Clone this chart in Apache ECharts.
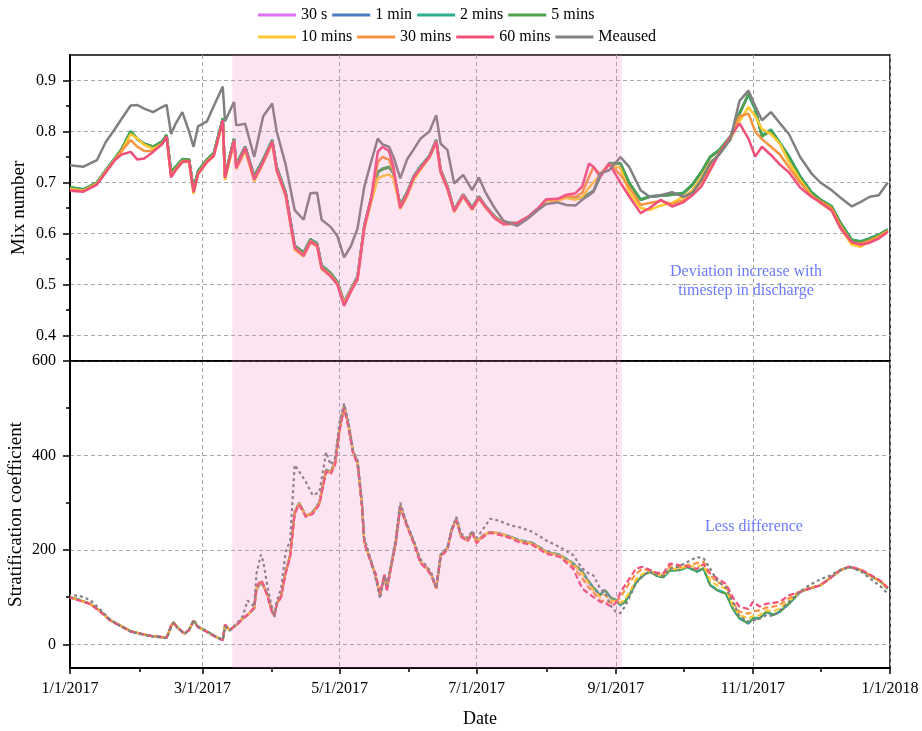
<!DOCTYPE html>
<html>
<head>
<meta charset="utf-8">
<script src="https://cdn.jsdelivr.net/npm/echarts@6/dist/echarts.min.js"></script>
<style>
  html, body { margin: 0; padding: 0; background: #fff; }
  #chart { width: 922px; height: 731px; }
</style>
</head>
<body>
<div id="chart"></div>
<script>
// day offsets from 1/1/2017 for the mix number panel
const mixDays = [0, 6, 12, 16, 20, 23, 27, 30, 33, 37,
  41, 43, 45, 47, 50, 53, 55, 57, 61, 64,
  68, 69, 73, 74, 78, 82, 86, 90, 92, 96,
  100, 104, 107, 110, 112, 116, 119, 122, 125, 128,
  131, 134, 137, 139, 142, 144, 147, 150, 153, 156,
  160, 163, 165, 168, 171, 175, 179, 182, 185, 189,
  193, 199, 204, 208, 212, 217, 221, 225, 228, 231,
  233, 236, 240, 245, 249, 254, 258, 263, 268, 273,
  277, 281, 285, 289, 294, 298, 302, 305, 308, 312,
  316, 320, 325, 330, 334, 339, 343, 348, 352, 356,
  360, 364]

const mixMeas = [0.734, 0.731, 0.744, 0.780, 0.805, 0.825, 0.851, 0.852, 0.845, 0.838,
  0.848, 0.852, 0.795, 0.815, 0.838, 0.800, 0.770, 0.810, 0.820, 0.850,
  0.888, 0.820, 0.858, 0.812, 0.815, 0.750, 0.830, 0.855, 0.800, 0.735,
  0.646, 0.627, 0.679, 0.680, 0.627, 0.613, 0.595, 0.553, 0.575, 0.610,
  0.692, 0.740, 0.786, 0.775, 0.770, 0.750, 0.708, 0.745, 0.765, 0.786,
  0.800, 0.832, 0.776, 0.764, 0.698, 0.715, 0.685, 0.710, 0.680, 0.650,
  0.625, 0.615, 0.630, 0.645, 0.658, 0.661, 0.656, 0.655, 0.666, 0.675,
  0.682, 0.718, 0.724, 0.750, 0.730, 0.685, 0.672, 0.675, 0.681, 0.672,
  0.680, 0.705, 0.738, 0.755, 0.785, 0.860, 0.880, 0.850, 0.822, 0.838,
  0.816, 0.795, 0.750, 0.718, 0.700, 0.685, 0.670, 0.653, 0.662, 0.672,
  0.675, 0.700]

const mix5min = [0.690, 0.686, 0.700, 0.724, 0.747, 0.765, 0.800, 0.785, 0.776, 0.770,
  0.780, 0.793, 0.720, 0.730, 0.745, 0.745, 0.686, 0.722, 0.745, 0.757,
  0.825, 0.712, 0.785, 0.735, 0.770, 0.712, 0.745, 0.783, 0.730, 0.680,
  0.576, 0.562, 0.588, 0.580, 0.537, 0.522, 0.505, 0.465, 0.490, 0.515,
  0.615, 0.668, 0.720, 0.726, 0.730, 0.718, 0.655, 0.680, 0.712, 0.731,
  0.752, 0.783, 0.724, 0.692, 0.646, 0.676, 0.650, 0.672, 0.653, 0.633,
  0.620, 0.620, 0.632, 0.647, 0.666, 0.666, 0.672, 0.668, 0.670, 0.678,
  0.683, 0.712, 0.737, 0.737, 0.698, 0.666, 0.672, 0.674, 0.676, 0.679,
  0.695, 0.720, 0.750, 0.763, 0.790, 0.835, 0.874, 0.845, 0.790, 0.802,
  0.776, 0.750, 0.711, 0.680, 0.666, 0.653, 0.620, 0.587, 0.584, 0.590,
  0.597, 0.607]

const mix2min = [0.691, 0.687, 0.700, 0.725, 0.748, 0.766, 0.801, 0.786, 0.776, 0.770,
  0.781, 0.793, 0.721, 0.731, 0.746, 0.745, 0.687, 0.723, 0.745, 0.758,
  0.826, 0.713, 0.786, 0.736, 0.771, 0.713, 0.746, 0.784, 0.731, 0.681,
  0.577, 0.563, 0.589, 0.581, 0.538, 0.523, 0.506, 0.466, 0.491, 0.516,
  0.616, 0.669, 0.721, 0.727, 0.731, 0.719, 0.656, 0.681, 0.713, 0.732,
  0.753, 0.784, 0.725, 0.693, 0.647, 0.677, 0.651, 0.673, 0.654, 0.634,
  0.621, 0.621, 0.633, 0.648, 0.667, 0.667, 0.673, 0.669, 0.671, 0.678,
  0.683, 0.713, 0.738, 0.738, 0.699, 0.667, 0.673, 0.675, 0.677, 0.680,
  0.696, 0.721, 0.751, 0.764, 0.791, 0.836, 0.872, 0.843, 0.792, 0.804,
  0.778, 0.752, 0.713, 0.682, 0.667, 0.654, 0.621, 0.588, 0.585, 0.591,
  0.598, 0.608]

const mix1min = [0.690, 0.686, 0.700, 0.724, 0.747, 0.765, 0.800, 0.785, 0.776, 0.770,
  0.780, 0.793, 0.720, 0.730, 0.745, 0.745, 0.686, 0.722, 0.745, 0.757,
  0.825, 0.712, 0.785, 0.735, 0.770, 0.712, 0.745, 0.783, 0.730, 0.680,
  0.576, 0.562, 0.588, 0.580, 0.537, 0.522, 0.505, 0.465, 0.490, 0.515,
  0.615, 0.668, 0.720, 0.726, 0.730, 0.718, 0.655, 0.680, 0.712, 0.731,
  0.752, 0.783, 0.724, 0.692, 0.646, 0.676, 0.650, 0.672, 0.653, 0.633,
  0.620, 0.620, 0.632, 0.647, 0.666, 0.666, 0.672, 0.668, 0.670, 0.678,
  0.683, 0.712, 0.737, 0.737, 0.698, 0.666, 0.672, 0.674, 0.676, 0.679,
  0.695, 0.720, 0.750, 0.763, 0.790, 0.835, 0.873, 0.844, 0.791, 0.803,
  0.777, 0.751, 0.712, 0.681, 0.666, 0.653, 0.620, 0.587, 0.584, 0.590,
  0.597, 0.607]

const mix30s = [0.690, 0.686, 0.700, 0.724, 0.747, 0.765, 0.800, 0.785, 0.776, 0.770,
  0.780, 0.793, 0.720, 0.730, 0.745, 0.745, 0.686, 0.722, 0.745, 0.757,
  0.825, 0.712, 0.785, 0.735, 0.770, 0.712, 0.745, 0.783, 0.730, 0.680,
  0.576, 0.562, 0.588, 0.580, 0.537, 0.522, 0.505, 0.465, 0.490, 0.515,
  0.615, 0.668, 0.720, 0.726, 0.730, 0.718, 0.655, 0.680, 0.712, 0.731,
  0.752, 0.783, 0.724, 0.692, 0.646, 0.676, 0.650, 0.672, 0.653, 0.633,
  0.620, 0.620, 0.632, 0.647, 0.666, 0.666, 0.672, 0.668, 0.670, 0.678,
  0.683, 0.712, 0.737, 0.737, 0.698, 0.666, 0.672, 0.674, 0.676, 0.679,
  0.695, 0.720, 0.750, 0.763, 0.790, 0.835, 0.873, 0.844, 0.791, 0.803,
  0.777, 0.751, 0.712, 0.681, 0.666, 0.653, 0.620, 0.587, 0.584, 0.590,
  0.597, 0.607]

const mix10min = [0.688, 0.684, 0.698, 0.722, 0.745, 0.762, 0.795, 0.786, 0.774, 0.766,
  0.776, 0.788, 0.712, 0.724, 0.740, 0.740, 0.678, 0.716, 0.740, 0.752,
  0.818, 0.705, 0.778, 0.726, 0.762, 0.702, 0.738, 0.776, 0.722, 0.672,
  0.568, 0.555, 0.582, 0.574, 0.530, 0.516, 0.500, 0.462, 0.486, 0.510,
  0.608, 0.660, 0.708, 0.712, 0.716, 0.708, 0.648, 0.672, 0.705, 0.725,
  0.748, 0.778, 0.718, 0.686, 0.642, 0.672, 0.646, 0.668, 0.650, 0.630,
  0.618, 0.618, 0.630, 0.645, 0.664, 0.664, 0.670, 0.666, 0.672, 0.690,
  0.700, 0.715, 0.735, 0.728, 0.680, 0.650, 0.646, 0.655, 0.660, 0.672,
  0.685, 0.710, 0.740, 0.755, 0.785, 0.820, 0.848, 0.830, 0.805, 0.795,
  0.776, 0.740, 0.705, 0.675, 0.660, 0.645, 0.610, 0.578, 0.574, 0.585,
  0.594, 0.604]

const mix30min = [0.686, 0.683, 0.697, 0.721, 0.745, 0.762, 0.783, 0.770, 0.762, 0.762,
  0.776, 0.790, 0.712, 0.726, 0.742, 0.742, 0.680, 0.718, 0.742, 0.754,
  0.822, 0.708, 0.782, 0.730, 0.766, 0.706, 0.740, 0.780, 0.726, 0.676,
  0.572, 0.558, 0.585, 0.577, 0.533, 0.518, 0.502, 0.463, 0.488, 0.512,
  0.612, 0.665, 0.740, 0.750, 0.745, 0.722, 0.652, 0.677, 0.710, 0.728,
  0.750, 0.781, 0.722, 0.690, 0.645, 0.675, 0.648, 0.670, 0.652, 0.632,
  0.620, 0.621, 0.633, 0.648, 0.666, 0.667, 0.673, 0.672, 0.680, 0.711,
  0.730, 0.716, 0.737, 0.715, 0.690, 0.656, 0.660, 0.664, 0.658, 0.665,
  0.680, 0.700, 0.730, 0.758, 0.790, 0.830, 0.835, 0.800, 0.785, 0.770,
  0.755, 0.730, 0.700, 0.674, 0.663, 0.650, 0.615, 0.582, 0.580, 0.586,
  0.594, 0.605]

const mix60min = [0.684, 0.682, 0.696, 0.720, 0.744, 0.755, 0.760, 0.745, 0.747, 0.760,
  0.775, 0.790, 0.710, 0.724, 0.740, 0.742, 0.682, 0.716, 0.740, 0.752,
  0.822, 0.710, 0.782, 0.728, 0.768, 0.706, 0.740, 0.780, 0.724, 0.676,
  0.572, 0.556, 0.584, 0.576, 0.532, 0.516, 0.500, 0.458, 0.486, 0.510,
  0.612, 0.668, 0.760, 0.770, 0.762, 0.730, 0.650, 0.676, 0.710, 0.728,
  0.750, 0.780, 0.720, 0.688, 0.644, 0.674, 0.648, 0.670, 0.652, 0.630,
  0.618, 0.620, 0.633, 0.648, 0.667, 0.668, 0.676, 0.679, 0.692, 0.737,
  0.731, 0.711, 0.737, 0.700, 0.672, 0.640, 0.650, 0.666, 0.653, 0.661,
  0.675, 0.692, 0.724, 0.757, 0.790, 0.816, 0.786, 0.751, 0.770, 0.754,
  0.735, 0.720, 0.690, 0.672, 0.661, 0.645, 0.610, 0.583, 0.578, 0.582,
  0.590, 0.603]

// day offsets for the stratification panel
const stratDays = [0, 4, 9, 13, 18, 22, 27, 31, 36, 40,
  43, 45, 46, 48, 51, 53, 55, 57, 61, 65,
  68, 69, 71, 74, 77, 79, 82, 83, 85, 86,
  88, 90, 91, 92, 94, 96, 98, 100, 102, 105,
  108, 111, 114, 116, 118, 120, 122, 124, 126, 128,
  130, 131, 134, 136, 138, 140, 141, 143, 145, 147,
  150, 153, 156, 159, 161, 163, 165, 168, 170, 172,
  174, 177, 179, 181, 184, 187, 191, 196, 200, 206,
  212, 218, 224, 228, 231, 233, 236, 238, 241, 243,
  245, 247, 249, 252, 255, 258, 261, 264, 267, 271,
  275, 279, 282, 285, 288, 292, 295, 298, 302, 304,
  307, 310, 313, 316, 320, 325, 329, 334, 338, 343,
  347, 352, 356, 361, 364]

const stratMeas = [104, 103, 94, 76, 52, 40, 27, 22, 17, 15,
  13, 36, 45, 34, 22, 31, 52, 38, 28, 16,
  10, 38, 29, 43, 60, 93, 80, 150, 190, 176,
  120, 75, 58, 90, 120, 196, 220, 380, 366, 344,
  316, 322, 407, 380, 395, 470, 510, 470, 410, 390,
  300, 225, 178, 140, 97, 145, 125, 170, 225, 300,
  255, 220, 180, 165, 150, 120, 190, 205, 245, 270,
  235, 225, 240, 225, 245, 266, 262, 252, 248, 238,
  220, 206, 189, 161, 150, 146, 118, 110, 80, 69,
  66, 80, 100, 130, 145, 155, 148, 145, 160, 165,
  175, 185, 182, 160, 135, 120, 90, 60, 48, 50,
  55, 62, 60, 72, 90, 112, 125, 138, 145, 158,
  164, 155, 140, 122, 107]

const strat5min = [100, 94, 86, 72, 51, 41, 28, 23, 18, 16,
  14, 38, 47, 35, 23, 30, 50, 37, 27, 16,
  9, 40, 30, 41, 55, 62, 76, 118, 132, 125,
  104, 69, 62, 86, 104, 154, 189, 280, 300, 272,
  280, 300, 370, 365, 386, 457, 505, 464, 408, 386,
  294, 217, 175, 146, 104, 146, 118, 168, 217, 294,
  252, 217, 175, 161, 146, 118, 189, 203, 245, 266,
  231, 220, 238, 217, 231, 238, 235, 228, 220, 214,
  196, 189, 171, 154, 132, 120, 104, 115, 97, 94,
  83, 90, 104, 132, 146, 154, 146, 142, 157, 157,
  164, 154, 161, 125, 115, 107, 76, 55, 44, 55,
  55, 69, 62, 69, 86, 111, 118, 125, 139, 157,
  164, 157, 146, 132, 118]

const strat2min = [101, 95, 86, 72, 51, 41, 28, 23, 18, 16,
  14, 38, 47, 35, 23, 30, 50, 37, 27, 16,
  9, 40, 30, 41, 55, 62, 76, 117, 131, 124,
  104, 69, 62, 86, 104, 153, 188, 280, 300, 272,
  280, 301, 370, 365, 386, 457, 505, 464, 408, 386,
  294, 217, 175, 146, 104, 146, 118, 168, 217, 294,
  252, 217, 175, 161, 146, 118, 189, 203, 245, 266,
  231, 220, 238, 217, 231, 238, 235, 228, 221, 215,
  197, 190, 172, 155, 133, 121, 105, 116, 98, 95,
  84, 90, 104, 131, 145, 153, 146, 142, 156, 157,
  163, 154, 160, 126, 116, 108, 77, 56, 45, 56,
  56, 69, 63, 70, 86, 111, 118, 125, 139, 157,
  164, 157, 146, 132, 118]

const strat1min = [100, 94, 86, 72, 51, 41, 28, 23, 18, 16,
  14, 38, 47, 35, 23, 30, 50, 37, 27, 16,
  9, 40, 30, 41, 55, 62, 76, 118, 132, 125,
  104, 69, 62, 86, 104, 154, 189, 280, 300, 272,
  280, 300, 370, 365, 386, 457, 505, 464, 408, 386,
  294, 217, 175, 146, 104, 146, 118, 168, 217, 294,
  252, 217, 175, 161, 146, 118, 189, 203, 245, 266,
  231, 220, 238, 217, 231, 238, 235, 228, 220, 214,
  196, 189, 171, 154, 132, 120, 104, 115, 97, 94,
  83, 90, 104, 132, 146, 154, 146, 142, 157, 157,
  164, 154, 161, 125, 115, 107, 76, 55, 44, 55,
  55, 69, 62, 69, 86, 111, 118, 125, 139, 157,
  164, 157, 146, 132, 118]

const strat30s = [100, 94, 86, 72, 51, 41, 28, 23, 18, 16,
  14, 38, 47, 35, 23, 30, 50, 37, 27, 16,
  9, 40, 30, 41, 55, 62, 76, 118, 132, 125,
  104, 69, 62, 86, 104, 154, 189, 280, 300, 272,
  280, 300, 370, 365, 386, 457, 505, 464, 408, 386,
  294, 217, 175, 146, 104, 146, 118, 168, 217, 294,
  252, 217, 175, 161, 146, 118, 189, 203, 245, 266,
  231, 220, 238, 217, 231, 238, 235, 228, 220, 214,
  196, 189, 171, 154, 132, 120, 104, 115, 97, 94,
  83, 90, 104, 132, 146, 154, 146, 142, 157, 157,
  164, 154, 161, 125, 115, 107, 76, 55, 44, 55,
  55, 69, 62, 69, 86, 111, 118, 125, 139, 157,
  164, 157, 146, 132, 118]

const strat10min = [100, 94, 86, 72, 51, 41, 28, 23, 18, 16,
  14, 38, 47, 35, 23, 30, 50, 37, 27, 16,
  9, 40, 30, 41, 55, 62, 76, 119, 133, 125,
  103, 68, 62, 86, 103, 153, 188, 279, 299, 272,
  279, 299, 369, 364, 385, 456, 504, 463, 407, 385,
  293, 216, 175, 147, 105, 147, 117, 167, 216, 293,
  252, 216, 175, 160, 146, 118, 189, 203, 245, 265,
  231, 220, 238, 217, 231, 238, 235, 227, 219, 213,
  195, 188, 170, 150, 128, 115, 100, 105, 92, 92,
  88, 95, 110, 138, 150, 155, 148, 145, 160, 160,
  166, 165, 168, 135, 125, 118, 82, 62, 55, 60,
  62, 72, 70, 76, 92, 111, 118, 125, 139, 157,
  164, 157, 146, 132, 118]

const strat30min = [100, 94, 86, 72, 51, 41, 28, 23, 18, 16,
  14, 39, 47, 35, 23, 30, 50, 37, 27, 16,
  9, 41, 30, 41, 55, 62, 77, 120, 134, 126,
  102, 68, 61, 85, 102, 152, 187, 278, 298, 271,
  278, 298, 368, 362, 383, 455, 503, 461, 406, 384,
  292, 215, 174, 148, 106, 148, 115, 166, 215, 292,
  251, 215, 174, 160, 145, 119, 188, 202, 244, 264,
  230, 219, 237, 216, 230, 237, 234, 226, 218, 212,
  194, 187, 165, 140, 120, 110, 92, 92, 88, 90,
  100, 115, 130, 150, 160, 156, 150, 148, 165, 163,
  168, 172, 175, 146, 132, 125, 90, 69, 65, 70,
  72, 78, 80, 84, 98, 112, 119, 126, 140, 158,
  165, 158, 147, 133, 119]

const strat60min = [99, 93, 85, 71, 50, 40, 27, 23, 18, 16,
  14, 40, 46, 34, 23, 31, 49, 36, 26, 15,
  9, 42, 31, 40, 54, 63, 78, 122, 136, 128,
  100, 66, 60, 84, 100, 150, 185, 276, 296, 270,
  276, 296, 366, 360, 380, 452, 500, 458, 404, 382,
  290, 214, 172, 150, 108, 150, 112, 165, 214, 290,
  250, 214, 172, 158, 144, 120, 186, 200, 242, 262,
  228, 218, 236, 214, 228, 236, 232, 225, 216, 210,
  192, 185, 160, 118, 107, 100, 90, 88, 80, 88,
  110, 125, 139, 161, 164, 158, 152, 150, 171, 168,
  165, 160, 170, 150, 140, 128, 100, 80, 75, 90,
  80, 86, 88, 90, 104, 111, 118, 125, 139, 158,
  165, 158, 148, 134, 120]

const seriesNames = ['30 s', '1 min', '2 mins', '5 mins', '10 mins', '30 mins', '60 mins', 'Meaused']
const seriesColors = ['#e070f2', '#4a7ec4', '#2fae8c', '#4ea34a', '#ffc933', '#f7943f', '#f0507a', '#808080']
const mixValues = [mix30s, mix1min, mix2min, mix5min, mix10min, mix30min, mix60min, mixMeas]
const stratValues = [strat30s, strat1min, strat2min, strat5min, strat10min, strat30min, strat60min, stratMeas]

// x axis in days since 1/1/2017
const dateTicks = [0, 59, 120, 181, 243, 304, 365]
const dateLabels = ['1/1/2017', '3/1/2017', '5/1/2017', '7/1/2017', '9/1/2017', '11/1/2017', '1/1/2018']
const dateMinor = [31, 90, 151, 212, 273, 334]
const mixTicks = [0.4, 0.5, 0.6, 0.7, 0.8, 0.9]
const mixMinor = [0.45, 0.55, 0.65, 0.75, 0.85]
const stratTicks = [0, 200, 400, 600]
const stratMinor = [100, 300, 500]
const bandDays = [72.2, 245.6] // shaded discharge period

const font = '"Liberation Serif", "Times New Roman", serif'
const gridLine = { show: true, lineStyle: { color: '#a6a6a6', type: [4, 3], width: 1 } }

const pairs = (days, vals) => days.map((d, i) => [d, vals[i]])
const fmtDate = (v) => {
  const i = dateTicks.indexOf(v)
  return i >= 0 ? dateLabels[i] : ''
}

const chart = echarts.init(document.getElementById('chart'))

function bandSeries(xi, yi) {
  return {
    type: 'custom',
    xAxisIndex: xi,
    yAxisIndex: yi,
    z: 10,
    silent: true,
    data: [[bandDays[0], bandDays[1]]],
    renderItem: (params, api) => {
      const a = api.coord([api.value(0), 0])
      const b = api.coord([api.value(1), 0])
      const cs = params.coordSys
      return {
        type: 'rect',
        shape: { x: a[0], y: cs.y, width: b[0] - a[0], height: cs.height },
        style: { fill: 'rgba(245,120,190,0.2)' }
      }
    }
  }
}

const series = []
seriesNames.forEach((name, i) => {
  series.push({
    name: name,
    type: 'line',
    xAxisIndex: 0,
    yAxisIndex: 0,
    symbol: 'none',
    color: seriesColors[i],
    lineStyle: { width: 2.5, color: seriesColors[i] },
    data: pairs(mixDays, mixValues[i])
  })
})
seriesNames.forEach((name, i) => {
  series.push({
    name: name,
    type: 'line',
    xAxisIndex: 1,
    yAxisIndex: 2,
    symbol: 'none',
    color: seriesColors[i],
    lineStyle: {
      width: 2.2,
      color: seriesColors[i],
      type: name === 'Meaused' ? [3, 3] : [6, 3],
      dashOffset: i * 2
    },
    data: pairs(stratDays, stratValues[i])
  })
})
series.push(bandSeries(0, 0))
series.push(bandSeries(1, 2))

const legendBase = {
  left: 258,
  itemWidth: 38,
  itemHeight: 3,
  itemGap: 5,
  padding: 0,
  icon: 'rect',
  textStyle: { fontFamily: font, fontSize: 16, color: '#000', width: 66 }
}

const tickStyle = { color: '#000', width: 1.5 }
const gridBase = {
  left: 70, right: 32, show: true, borderColor: '#000', borderWidth: 1.5,
  backgroundColor: 'transparent', containLabel: false, outerBoundsMode: 'none'
}

const option = {
  animation: false,
  backgroundColor: '#fff',
  legend: [
    Object.assign({}, legendBase, { top: 7, data: seriesNames.slice(0, 4) }),
    Object.assign({}, legendBase, { top: 29, data: seriesNames.slice(4) })
  ],
  grid: [
    Object.assign({}, gridBase, { top: 55, height: 306 }),
    Object.assign({}, gridBase, { top: 361, height: 307 })
  ],
  xAxis: [
    {
      type: 'value', gridIndex: 0, min: 0, max: 365, position: 'bottom',
      axisLine: { show: true, onZero: false, lineStyle: { color: '#000', width: 1.5 } },
      axisTick: { show: false, customValues: dateTicks },
      axisLabel: { show: false, customValues: dateTicks },
      splitLine: gridLine
    },
    {
      type: 'value', gridIndex: 1, min: 0, max: 365, position: 'bottom',
      name: 'Date', nameLocation: 'middle', nameGap: 42, nameMoveOverlap: false,
      nameTextStyle: { fontFamily: font, fontSize: 18, color: '#000' },
      axisLine: { show: true, onZero: false, lineStyle: { color: '#000', width: 2 } },
      axisTick: { show: true, length: 6, customValues: dateTicks, lineStyle: tickStyle },
      axisLabel: { show: true, customValues: dateTicks, formatter: fmtDate, margin: 13, fontFamily: font, fontSize: 16, color: '#000' },
      splitLine: gridLine
    },
    {
      type: 'value', gridIndex: 1, min: 0, max: 365, position: 'bottom',
      axisLine: { show: false, onZero: false },
      axisTick: { show: true, length: 4, customValues: dateMinor, lineStyle: tickStyle },
      axisLabel: { show: false, customValues: dateMinor },
      splitLine: { show: false }
    }
  ],
  yAxis: [
    {
      type: 'value', gridIndex: 0, min: 0.35, max: 0.95, position: 'left',
      name: 'Mix number', nameLocation: 'middle', nameGap: 41, nameMoveOverlap: false,
      nameTextStyle: { fontFamily: font, fontSize: 19, color: '#000' },
      axisLine: { show: true, onZero: false, lineStyle: { color: '#000', width: 2 } },
      axisTick: { show: true, length: 7, customValues: mixTicks, lineStyle: tickStyle },
      axisLabel: { customValues: mixTicks, margin: 14, fontFamily: font, fontSize: 16, color: '#000' },
      splitLine: gridLine
    },
    {
      type: 'value', gridIndex: 0, min: 0.35, max: 0.95, position: 'left',
      axisLine: { show: false, onZero: false },
      axisTick: { show: true, length: 4, customValues: mixMinor, lineStyle: tickStyle },
      axisLabel: { show: false, customValues: mixMinor },
      splitLine: { show: false }
    },
    {
      type: 'value', gridIndex: 1, min: -50, max: 600, position: 'left',
      name: 'Stratification coefficient', nameLocation: 'middle', nameGap: 44, nameMoveOverlap: false,
      nameTextStyle: { fontFamily: font, fontSize: 19, color: '#000' },
      axisLine: { show: true, onZero: false, lineStyle: { color: '#000', width: 2 } },
      axisTick: { show: true, length: 7, customValues: stratTicks, lineStyle: tickStyle },
      axisLabel: { customValues: stratTicks, margin: 14, fontFamily: font, fontSize: 16, color: '#000' },
      splitLine: gridLine
    },
    {
      type: 'value', gridIndex: 1, min: -50, max: 600, position: 'left',
      axisLine: { show: false, onZero: false },
      axisTick: { show: true, length: 4, customValues: stratMinor, lineStyle: tickStyle },
      axisLabel: { show: false, customValues: stratMinor },
      splitLine: { show: false }
    }
  ],
  graphic: [
    {
      type: 'text', z: 20,
      style: { text: 'Deviation increase with\ntimestep in discharge', x: 746, y: 262, textAlign: 'center', fill: '#6b7bff', font: '16px ' + font, lineHeight: 19 }
    },
    {
      type: 'text', z: 20,
      style: { text: 'Less difference', x: 754, y: 519, textAlign: 'center', fill: '#6b7bff', font: '16px ' + font }
    }
  ],
  series: series
}

chart.setOption(option)
</script>
</body>
</html>
